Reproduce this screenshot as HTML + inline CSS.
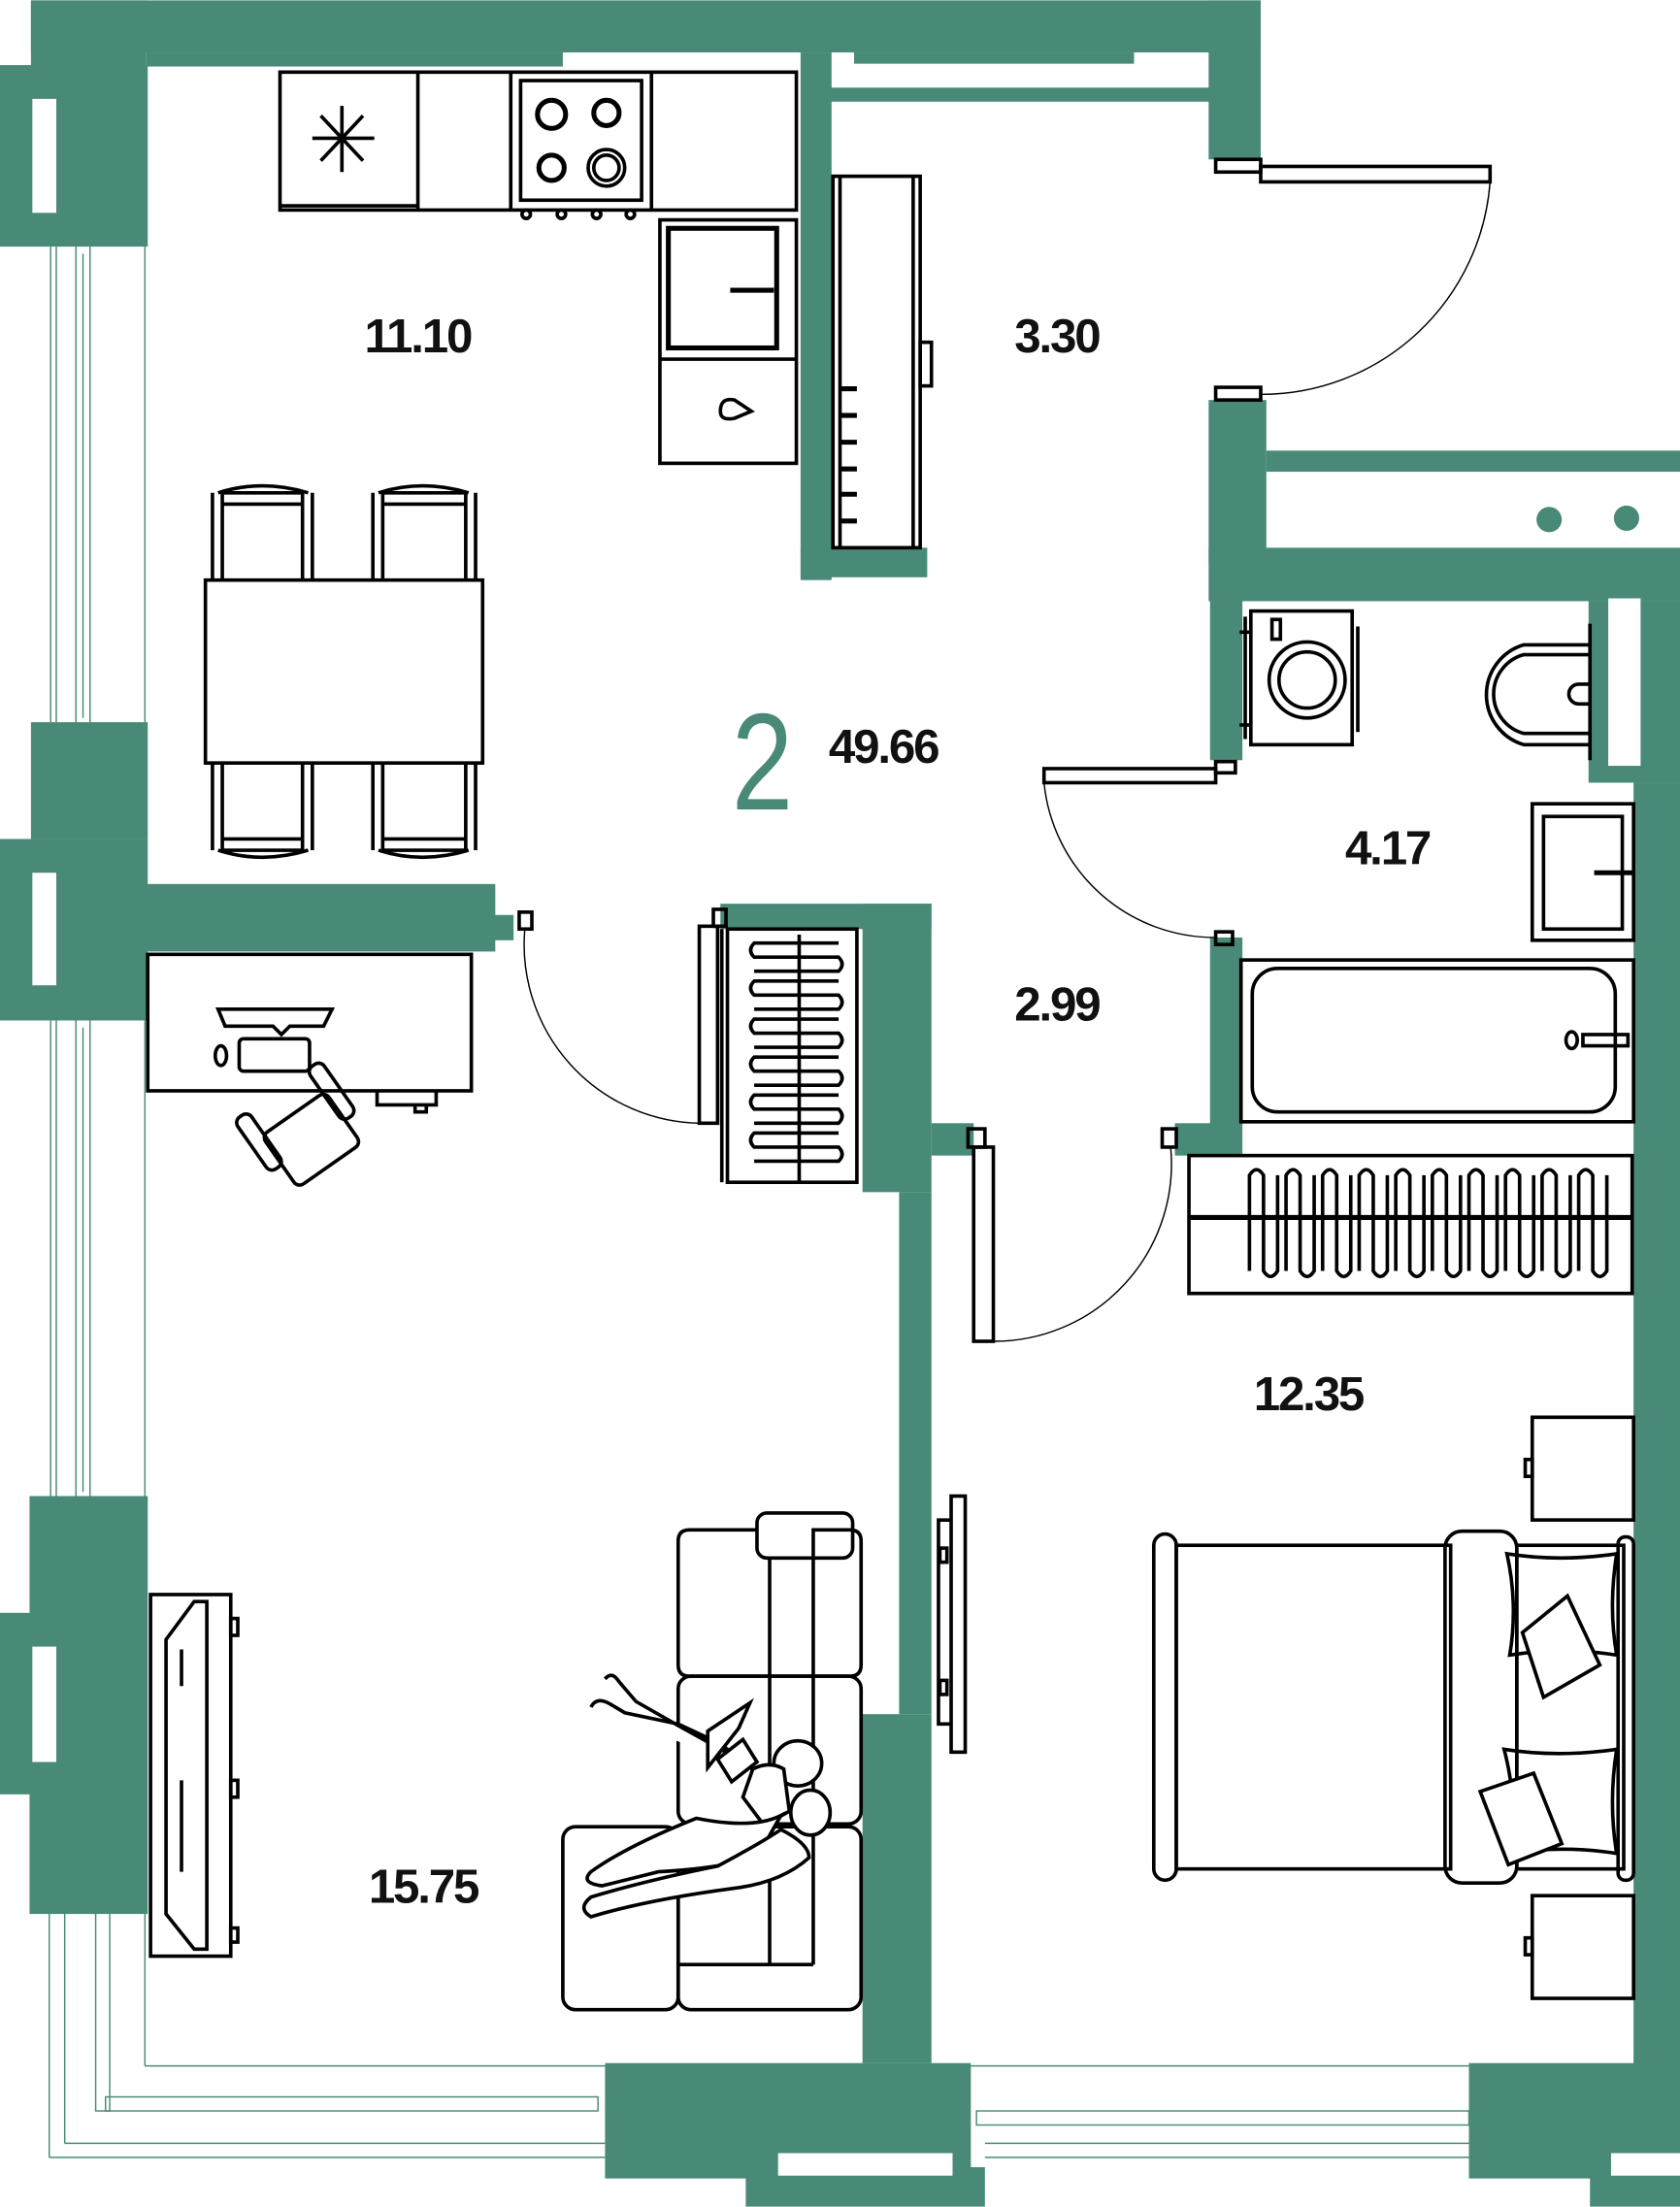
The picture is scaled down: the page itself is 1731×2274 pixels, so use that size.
<!DOCTYPE html>
<html><head><meta charset="utf-8"><style>
html,body{margin:0;padding:0;background:#fff;}
svg{display:block}
.t{font-family:"Liberation Sans",sans-serif;font-size:34px;fill:#111;letter-spacing:-1.5px;font-weight:bold}
</style></head><body>
<svg width="1731" height="2274" viewBox="0 0 1194 1568" xmlns="http://www.w3.org/2000/svg">
<rect width="1194" height="1568" fill="#fff"/>
<g fill="#488a77">
<rect x="22" y="0" width="874" height="37"/>
<rect x="22" y="0" width="82" height="47"/>
<rect x="104" y="37" width="296" height="10"/>
<rect x="607" y="37" width="199" height="8"/>
<rect x="589" y="62" width="273" height="10"/>
<rect x="569" y="37" width="22" height="375"/>
<rect x="569" y="389" width="90" height="21"/>
<rect x="859" y="0" width="37" height="113"/>
<rect x="0" y="46" width="105" height="129"/>
<rect x="22" y="513" width="83" height="83"/>
<rect x="0" y="596" width="105" height="129"/>
<rect x="104" y="628" width="248" height="48"/>
<rect x="350" y="650" width="15" height="18"/>
<rect x="21" y="1063" width="84" height="297"/>
<rect x="0" y="1146" width="22" height="129"/>
<rect x="859" y="284" width="41" height="116"/>
<rect x="900" y="320" width="294" height="15"/>
<rect x="859" y="389" width="335" height="38"/>
<rect x="860" y="400" width="23" height="140"/>
<rect x="1129" y="427" width="65" height="129"/>
<rect x="1161" y="556" width="33" height="977"/>
<rect x="860" y="666" width="23" height="134"/>
<rect x="835" y="798" width="48" height="23"/>
<rect x="512" y="642" width="150" height="18"/>
<rect x="613" y="642" width="49" height="205"/>
<rect x="639" y="847" width="23" height="371"/>
<rect x="613" y="1218" width="49" height="248"/>
<rect x="662" y="798" width="30" height="23"/>
<rect x="430" y="1466" width="260" height="82"/>
<rect x="530" y="1540" width="170" height="28"/>
<rect x="1044" y="1466" width="150" height="82"/>
<rect x="1130" y="1540" width="64" height="28"/>
</g>
<g fill="#fff">
<rect x="23" y="70" width="17" height="81"/>
<rect x="23" y="620" width="17" height="80"/>
<rect x="23" y="1170" width="17" height="82"/>
<rect x="1143" y="425" width="23" height="119"/>
<rect x="553" y="1530" width="124" height="16"/>
<rect x="1145" y="1530" width="49" height="16"/>
</g>
<circle cx="1101" cy="369" r="9" fill="#488a77"/><circle cx="1156" cy="368" r="9" fill="#488a77"/>
<g stroke="#488a77" stroke-width="1" fill="none">
<line x1="36" y1="175" x2="36" y2="513"/><line x1="40" y1="175" x2="40" y2="513"/>
<rect x="54" y="172" width="10" height="345"/><line x1="59" y1="180" x2="59" y2="510"/>
<line x1="103" y1="175" x2="103" y2="513"/>
<line x1="36" y1="725" x2="36" y2="1063"/><line x1="40" y1="725" x2="40" y2="1063"/>
<rect x="54" y="722" width="10" height="345"/><line x1="59" y1="730" x2="59" y2="1060"/>
<line x1="103" y1="725" x2="103" y2="1063"/>
<line x1="35" y1="1360" x2="35" y2="1533"/><line x1="46" y1="1360" x2="46" y2="1523"/>
<rect x="68" y="1355" width="10" height="145"/>
<line x1="103" y1="1360" x2="103" y2="1468"/><line x1="103" y1="1468" x2="430" y2="1468"/>
<rect x="75" y="1490" width="350" height="10"/>
<line x1="35" y1="1533" x2="430" y2="1533"/><line x1="46" y1="1523" x2="430" y2="1523"/>
<rect x="694" y="1500" width="350" height="10"/>
<line x1="690" y1="1468" x2="1044" y2="1468"/>
<line x1="700" y1="1523" x2="1044" y2="1523"/><line x1="700" y1="1533" x2="1044" y2="1533"/>
</g>
<g fill="none" stroke="#000" stroke-width="2.5">
<rect x="199" y="51" width="367" height="98"/>
<line x1="297" y1="51" x2="297" y2="149"/><line x1="363" y1="51" x2="363" y2="149"/>
<line x1="463" y1="51" x2="463" y2="149"/><line x1="199" y1="146" x2="297" y2="146"/>
<rect x="370" y="57" width="86" height="85"/>
<circle cx="392" cy="81" r="10" stroke-width="3.5"/><circle cx="431" cy="80" r="9" stroke-width="3.5"/>
<circle cx="392" cy="119" r="9" stroke-width="3.5"/><circle cx="431" cy="119" r="13"/><circle cx="431" cy="119" r="9"/>
<circle cx="374" cy="152" r="3"/><circle cx="399" cy="152" r="3"/><circle cx="424" cy="152" r="3"/><circle cx="448" cy="152" r="3"/>
<g stroke-width="2.5"><line x1="243" y1="75" x2="243" y2="122"/><line x1="222" y1="98" x2="266" y2="98"/><line x1="228" y1="82" x2="258" y2="114"/><line x1="258" y1="82" x2="228" y2="114"/></g>
<rect x="469" y="156" width="97" height="173"/><line x1="469" y1="255" x2="566" y2="255"/>
<rect x="475" y="162" width="77" height="85" stroke-width="3.5"/><line x1="519" y1="206" x2="550" y2="206" stroke-width="3.5"/>
<path d="M512 292 q0 -10 10 -8 l12 8 l-12 5 q-10 2 -10 -5z"/>
<rect x="592" y="125" width="62" height="264"/><line x1="597" y1="125" x2="597" y2="389"/><line x1="649" y1="125" x2="649" y2="389"/>
<rect x="654" y="243" width="8" height="31"/>
<g stroke-width="3.5"><line x1="597" y1="276" x2="609" y2="276"/><line x1="597" y1="295" x2="609" y2="295"/><line x1="597" y1="314" x2="609" y2="314"/><line x1="597" y1="333" x2="609" y2="333"/><line x1="597" y1="351" x2="609" y2="351"/><line x1="597" y1="370" x2="609" y2="370"/></g>
<rect x="146" y="412" width="197" height="130"/>
<path d="M151 412 V350 M158 412 V350 H215 V412 M222 412 V350 M158 358 H215 M155 350 q31 -10 64 0"/>
<path d="M265 412 V350 M272 412 V350 H331 V412 M338 412 V350 M272 358 H331 M269 350 q31 -10 64 0"/>
<path d="M151 542 V604 M158 542 V604 H215 V542 M222 542 V604 M158 596 H215 M155 604 q31 10 64 0"/>
<path d="M265 542 V604 M272 542 V604 H331 V542 M338 542 V604 M272 596 H331 M269 604 q31 10 64 0"/>
<rect x="105" y="678" width="230" height="97"/>
<path d="M155 717 H236 L230 729 H206 L200 735 L194 729 H160 Z"/>
<rect x="170" y="738" width="50" height="23" rx="3"/><ellipse cx="157" cy="750" rx="4" ry="7"/>
<path d="M268 775 V785 H310 V775 M295 785 V790 H303 V785"/>
<g transform="rotate(-35 215 805)"><rect x="190" y="790" width="55" height="45" rx="5"/><rect x="180" y="770" width="12" height="45" rx="5"/><rect x="243" y="770" width="12" height="45" rx="5"/></g>
<rect x="517" y="660" width="92" height="180"/><line x1="513" y1="660" x2="513" y2="840"/><line x1="568" y1="664" x2="568" y2="840"/>
<rect x="497" y="658" width="13" height="140"/><rect x="507" y="646" width="9" height="12"/>
<path d="M596 670 H536 q-5 5 0 10 H596 q5 5 0 10 H536 M596 697 H536 q-5 5 0 10 H596 q5 5 0 10 H536 M596 724 H536 q-5 5 0 10 H596 q5 5 0 10 H536 M596 751 H536 q-5 5 0 10 H596 q5 5 0 10 H536 M596 778 H536 q-5 5 0 10 H596 q5 5 0 10 H536 M596 805 H536 q-5 5 0 10 H596 q5 5 0 10 H536"/>
<path d="M373 660 A127 127 0 0 0 497 798" stroke-width="1"/>
<rect x="369" y="648" width="9" height="12"/>
<rect x="864" y="113" width="32" height="9"/><rect x="896" y="118" width="163" height="11"/>
<rect x="864" y="275" width="32" height="9"/>
<path d="M1059 129 A163 163 0 0 1 896 280" stroke-width="1"/>
<rect x="742" y="546" width="122" height="10"/><rect x="864" y="541" width="14" height="8"/>
<path d="M742 556 A122 122 0 0 0 864 666" stroke-width="1"/><rect x="864" y="662" width="12" height="9"/>
<rect x="889" y="434" width="72" height="95"/><line x1="885" y1="438" x2="885" y2="525"/><line x1="965" y1="445" x2="965" y2="520"/>
<line x1="881" y1="449" x2="889" y2="449"/><line x1="881" y1="515" x2="889" y2="515"/>
<rect x="904" y="440" width="6" height="14"/><circle cx="929" cy="483" r="27"/><circle cx="929" cy="483" r="20"/>
<path d="M1130 458 H1083 A37 37 0 0 0 1083 529 H1130"/><path d="M1130 465 H1083 A29 29 0 0 0 1083 521 H1130"/>
<path d="M1130 486 H1122 A7 7 0 0 0 1122 500 H1130"/><line x1="1130" y1="443" x2="1130" y2="540"/>
<rect x="1089" y="571" width="72" height="97"/><rect x="1097" y="580" width="56" height="80"/><line x1="1133" y1="620" x2="1160" y2="620" stroke-width="3.5"/>
<rect x="882" y="682" width="279" height="115"/><rect x="890" y="688" width="258" height="102" rx="18"/>
<rect x="1125" y="735" width="32" height="8"/><ellipse cx="1117" cy="739" rx="4" ry="6"/>
<rect x="688" y="802" width="12" height="13"/><rect x="826" y="802" width="10" height="13"/>
<rect x="692" y="815" width="14" height="138"/>
<path d="M706 953 A126 126 0 0 0 832 815" stroke-width="1"/>
<rect x="845" y="821" width="315" height="98"/><line x1="845" y1="865" x2="1160" y2="865" stroke-width="3.5"/>
<path d="M888 903 V835 q5 -8 10 0 V903 q5 8 10 0 V835 M914 903 V835 q5 -8 10 0 V903 q5 8 10 0 V835 M940 903 V835 q5 -8 10 0 V903 q5 8 10 0 V835 M966 903 V835 q5 -8 10 0 V903 q5 8 10 0 V835 M992 903 V835 q5 -8 10 0 V903 q5 8 10 0 V835 M1018 903 V835 q5 -8 10 0 V903 q5 8 10 0 V835 M1044 903 V835 q5 -8 10 0 V903 q5 8 10 0 V835 M1070 903 V835 q5 -8 10 0 V903 q5 8 10 0 V835 M1096 903 V835 q5 -8 10 0 V903 q5 8 10 0 V835 M1122 903 V835 q5 -8 10 0 V903 q5 8 10 0 V835"/>
<rect x="1089" y="1007" width="72" height="73"/><rect x="1084" y="1037" width="5" height="12"/>
<rect x="1089" y="1347" width="72" height="73"/><rect x="1084" y="1377" width="5" height="12"/>
<rect x="836" y="1098" width="195" height="230"/>
<rect x="820" y="1090" width="16" height="246" rx="8"/>
<rect x="1027" y="1088" width="51" height="250" rx="12"/>
<rect x="1078" y="1098" width="76" height="230"/>
<rect x="1150" y="1092" width="11" height="244" rx="5"/>
<path d="M1071 1104 q38 6 78 0 q-6 38 0 72 q-38 -6 -76 0 q6 -36 -2 -72z"/>
<path d="M1082 1160 l32 -26 l23 49 l-40 23 z" fill="#fff"/>
<path d="M1069 1243 q38 6 80 0 q-6 38 0 74 q-38 -6 -76 0 q6 -36 -4 -74z"/>
<path d="M1052 1273 l38 -13 l20 50 l-38 15 z" fill="#fff"/>
<rect x="676" y="1063" width="10" height="182"/><path d="M676 1080 H667 V1225 H676"/>
<rect x="668" y="1100" width="5" height="10"/><rect x="668" y="1194" width="5" height="10"/>
<rect x="107" y="1133" width="57" height="257"/>
<path d="M138 1138 H147 V1385 H138 L118 1360 V1165 Z"/>
<rect x="164" y="1150" width="5" height="12"/><rect x="164" y="1265" width="5" height="12"/><rect x="164" y="1370" width="5" height="10"/>
<path d="M129 1172 V1198 M129 1265 V1330"/>
<rect x="538" y="1075" width="68" height="32" rx="7"/>
<path d="M538 1087 H490 q-8 0 -8 8 V1183 q0 8 8 8 H604 q8 0 8 -8 V1095 q0 -8 -8 -8 H578 V1107"/>
<line x1="547" y1="1107" x2="547" y2="1396"/><line x1="578" y1="1107" x2="578" y2="1396"/>
<rect x="482" y="1191" width="130" height="105" rx="9"/>
<rect x="400" y="1298" width="82" height="130" rx="9"/>
<rect x="482" y="1298" width="130" height="130" rx="9"/>
<line x1="482" y1="1396" x2="578" y2="1396"/>
<path d="M430 1193 q5 -6 10 2 l12 14 l28 16 l36 20 M420 1213 q4 -8 14 -2 l10 6 l38 8 l30 14 l25 20" fill="#fff"/>
<path d="M503 1230 l30 -20 l-8 18 l-22 28 z M510 1250 l18 -14 l10 16 l-18 14 z" fill="#fff"/>
<ellipse cx="567" cy="1253" rx="17" ry="16" fill="#fff"/>
<path d="M535 1257 q12 -6 22 0 l4 30 l-18 10 l-15 -20 z" fill="#fff"/>
<ellipse cx="576" cy="1288" rx="14" ry="16" fill="#fff"/>
<path d="M555 1290 q-20 10 -60 2 q-50 20 -75 38 q-8 8 8 10 l40 -10 q40 -2 70 -10 z" fill="#fff"/>
<path d="M555 1300 q20 10 20 20 q-20 18 -55 22 q-60 8 -100 20 q-10 -6 0 -14 q40 -12 90 -22 q30 -16 45 -26z" fill="#fff"/>
</g>
<text class="t" x="259" y="250">11.10</text>
<text class="t" x="721" y="250">3.30</text>
<text class="t" x="589" y="542">49.66</text>
<text class="t" x="956" y="614">4.17</text>
<text class="t" x="721" y="725">2.99</text>
<text class="t" x="891" y="1002">12.35</text>
<text class="t" x="262" y="1352">15.75</text>
<text x="0" y="0" transform="translate(520 575) scale(0.8 1)" font-family="Liberation Sans, sans-serif" font-size="98" fill="#488a77">2</text>
</svg>
</body></html>
